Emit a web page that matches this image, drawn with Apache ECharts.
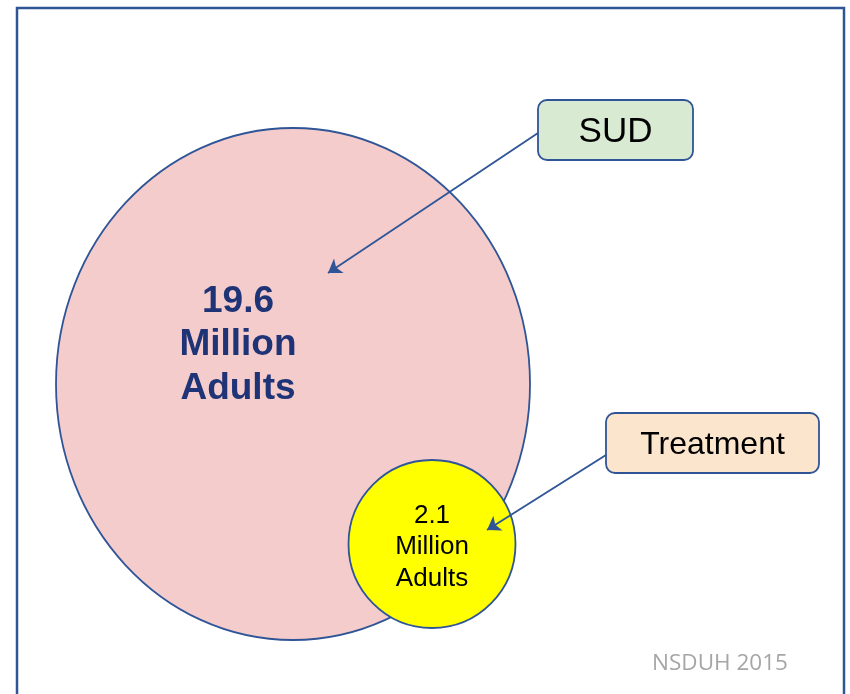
<!DOCTYPE html>
<html>
<head>
<meta charset="utf-8">
<script src="https://cdn.jsdelivr.net/npm/echarts@6/dist/echarts.min.js"></script>
<style>
  html, body { margin: 0; padding: 0; background: #fff; }
  #chart { width: 850px; height: 694px; }
</style>
</head>
<body>
<div id="chart"></div>
<script>
// data
var groups = ['SUD', 'Treatment'];
var adultsMillions = [19.6, 2.1];
var unitLines = ['Million', 'Adults'];
var sourceNote = 'NSDUH 2015';

// layout (pixel-like units on hidden axes, 0..850 x 0..694)
var circleCenter = [[293, 384], [432, 544]];
var circleRadius = [[237, 256], [83.5, 84]];
var labelPos = [[238, 345], [432, 547]];
var boxRect = [[538, 100, 155, 60], [606, 413, 213, 60]];
var arrowPaths = [[[538, 133], [328, 273]], [[606, 455], [487, 530]]];

var circleFill = ['#F4CCCC', '#FFFF00'];
var boxFill = ['#D9EAD3', '#FCE5CD'];
var edge = '#2F5597';

var circleData = adultsMillions.map(function (v, i) {
  return [circleCenter[i][0], circleCenter[i][1], circleRadius[i][0], circleRadius[i][1], v, i];
});
var boxData = groups.map(function (g, i) {
  return [boxRect[i][0], boxRect[i][1], boxRect[i][2], boxRect[i][3], i];
});
var labelData = adultsMillions.map(function (v, i) {
  return [labelPos[i][0], labelPos[i][1], v, i];
});

var chart = echarts.init(document.getElementById('chart'), null, { renderer: 'canvas' });
chart.setOption({
  animation: false,
  backgroundColor: '#fff',
  grid: { left: 0, right: 0, top: 0, bottom: 0 },
  xAxis: { type: 'value', min: 0, max: 850, show: false },
  yAxis: { type: 'value', min: 0, max: 694, inverse: true, show: false },
  graphic: [{
    type: 'rect', z: 100,
    shape: { x: 17, y: 8, width: 827, height: 700 },
    style: { fill: 'none', stroke: edge, lineWidth: 2.5 }
  }],
  series: [
    {
      type: 'custom', z: 1,
      data: circleData,
      renderItem: function (params, api) {
        var c = api.coord([api.value(0), api.value(1)]);
        var s = api.size([api.value(2), api.value(3)]);
        var i = api.value(5);
        return {
          type: 'ellipse',
          shape: { cx: c[0], cy: c[1], rx: s[0], ry: s[1] },
          style: { fill: circleFill[i], stroke: edge, lineWidth: 1.8 }
        };
      }
    },
    {
      type: 'custom', z: 2,
      data: labelData,
      renderItem: function (params, api) {
        var c = api.coord([api.value(0), api.value(1)]);
        var i = api.value(3);
        var big = i === 0;
        return {
          type: 'text',
          x: c[0], y: c[1],
          style: {
            text: api.value(2).toFixed(1) + '\n' + unitLines.join('\n'),
            fontFamily: 'Liberation Sans, Arial, sans-serif',
            fontSize: big ? 37 : 26,
            fontWeight: big ? 'bold' : 'normal',
            lineHeight: big ? 43.5 : 31.5,
            fill: big ? '#1F3476' : '#000',
            align: 'center',
            verticalAlign: 'middle'
          }
        };
      }
    },
    {
      type: 'custom', z: 3,
      data: boxData,
      renderItem: function (params, api) {
        var p = api.coord([api.value(0), api.value(1)]);
        var s = api.size([api.value(2), api.value(3)]);
        var i = api.value(4);
        return {
          type: 'group',
          children: [{
            type: 'rect',
            shape: { x: p[0], y: p[1], width: s[0], height: s[1], r: 9 },
            style: { fill: boxFill[i], stroke: edge, lineWidth: 1.8 }
          }, {
            type: 'text',
            x: p[0] + s[0] / 2, y: p[1] + s[1] / 2 + 2,
            style: {
              text: groups[i],
              fontFamily: 'Liberation Sans, Arial, sans-serif',
              fontSize: i === 0 ? 35 : 32,
              fill: '#000',
              align: 'center',
              verticalAlign: 'middle'
            }
          }]
        };
      }
    },
    {
      type: 'lines', z: 4,
      coordinateSystem: 'cartesian2d',
      symbol: ['none', 'arrow'],
      symbolSize: 13,
      lineStyle: { color: edge, width: 1.9, opacity: 1 },
      data: arrowPaths.map(function (p) { return { coords: p }; })
    },
    {
      type: 'custom', z: 5,
      data: [[720, 664]],
      renderItem: function (params, api) {
        var c = api.coord([api.value(0), api.value(1)]);
        return {
          type: 'text', x: c[0], y: c[1],
          style: {
            text: sourceNote,
            fontFamily: 'Open Sans, Liberation Sans, sans-serif',
            fontSize: 22.5,
            fill: '#A6A6A6',
            align: 'center',
            verticalAlign: 'middle'
          }
        };
      }
    }
  ]
});
</script>
</body>
</html>
